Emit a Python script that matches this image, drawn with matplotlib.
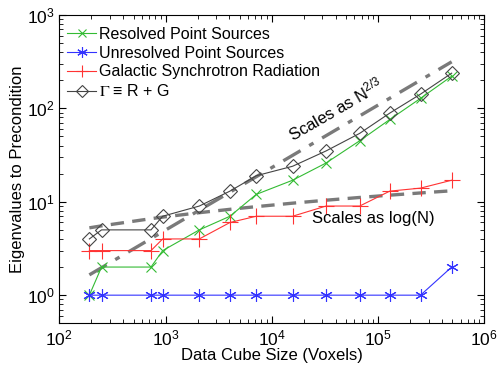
import matplotlib
matplotlib.use("Agg")
import matplotlib.pyplot as plt
import numpy as np

plt.rcParams['font.family'] = ['Liberation Sans', 'DejaVu Sans']
plt.rcParams['mathtext.fontset'] = 'stix'
plt.rcParams['mathtext.default'] = 'regular'

# Data
voxels = [192, 250, 730, 940, 2080, 4040, 7150, 15700, 32400, 67200, 129000, 251000, 493000]
resolved = [1, 2, 2, 3, 5, 7, 12, 17, 26, 45, 76, 128, 221]
unresolved = [1, 1, 1, 1, 1, 1, 1, 1, 1, 1, 1, 1, 2]
galactic = [3, 3, 3, 4, 4, 6, 7, 7, 9, 9, 13, 14, 17]
gamma = [4, 5, 5, 7, 9, 13, 19, 24, 35, 54, 89, 142, 238]

# Guide lines
n23_x = [192, 493000]
n23_y = [1.65, 315]
logn_y = [5.26, 5.52, 6.59, 6.85, 7.64, 8.30, 8.87, 9.66, 10.39, 11.12, 11.77, 12.43, 13.11]

fig = plt.figure(figsize=(4.98, 3.74), dpi=100)
ax = fig.add_axes([0.119, 0.1356, 0.8535, 0.8244])

ax.plot(n23_x, n23_y, color='#7a7a7a', lw=2.4, ls=(0, (6, 3, 1.5, 3)), zorder=1)
ax.plot(voxels, logn_y, color='#7a7a7a', lw=2.4, ls=(0, (4, 2.5)), zorder=1)

ax.plot(voxels, resolved, color='#33bb33', lw=0.8, marker='x', ms=7, mew=0.8,
        label='Resolved Point Sources', zorder=3)
ax.plot(voxels, unresolved, color='#3333ff', lw=0.8, marker=(6, 2, 0), ms=9, mew=0.8,
        label='Unresolved Point Sources', zorder=3)
ax.plot(voxels, galactic, color='#ff3333', lw=0.8, marker='+', ms=11, mew=0.8,
        label='Galactic Synchrotron Radiation', zorder=3)
ax.plot(voxels, gamma, color='#444444', lw=0.8, marker='D', ms=7, mew=0.8, mfc='none',
        label=r'$\mathrm{\Gamma}$ ≡ R + G', zorder=3)

ax.set_xscale('log')
ax.set_yscale('log')
ax.set_xlim(1e2, 1e6)
ax.set_ylim(0.5, 1e3)

ax.tick_params(which='both', direction='in', top=True, right=True, labelsize=12.5)
ax.tick_params(which='major', length=5, width=0.8)
ax.tick_params(which='minor', length=3, width=0.6)
ax.xaxis.set_major_locator(matplotlib.ticker.LogLocator(base=10, numticks=10))
ax.yaxis.set_major_locator(matplotlib.ticker.LogLocator(base=10, numticks=10))

ax.set_xlabel('Data Cube Size (Voxels)', fontsize=12, labelpad=0)
ax.set_ylabel('Eigenvalues to Precondition', fontsize=12, labelpad=1)

ax.text(4.0e4, 97, r'Scales as N$^{2/3}$', fontsize=12, rotation=30,
        ha='center', va='center')
ax.text(9.0e4, 6.67, 'Scales as log(N)', fontsize=12, ha='center', va='center')

leg = ax.legend(loc='upper left', frameon=False, fontsize=11.5, handlelength=1.85,
                handletextpad=0.15, labelspacing=0.24, borderaxespad=0.0,
                borderpad=0.0, bbox_to_anchor=(0.018, 0.962), markerscale=0.85)

fig.savefig('out.png', dpi=100)
